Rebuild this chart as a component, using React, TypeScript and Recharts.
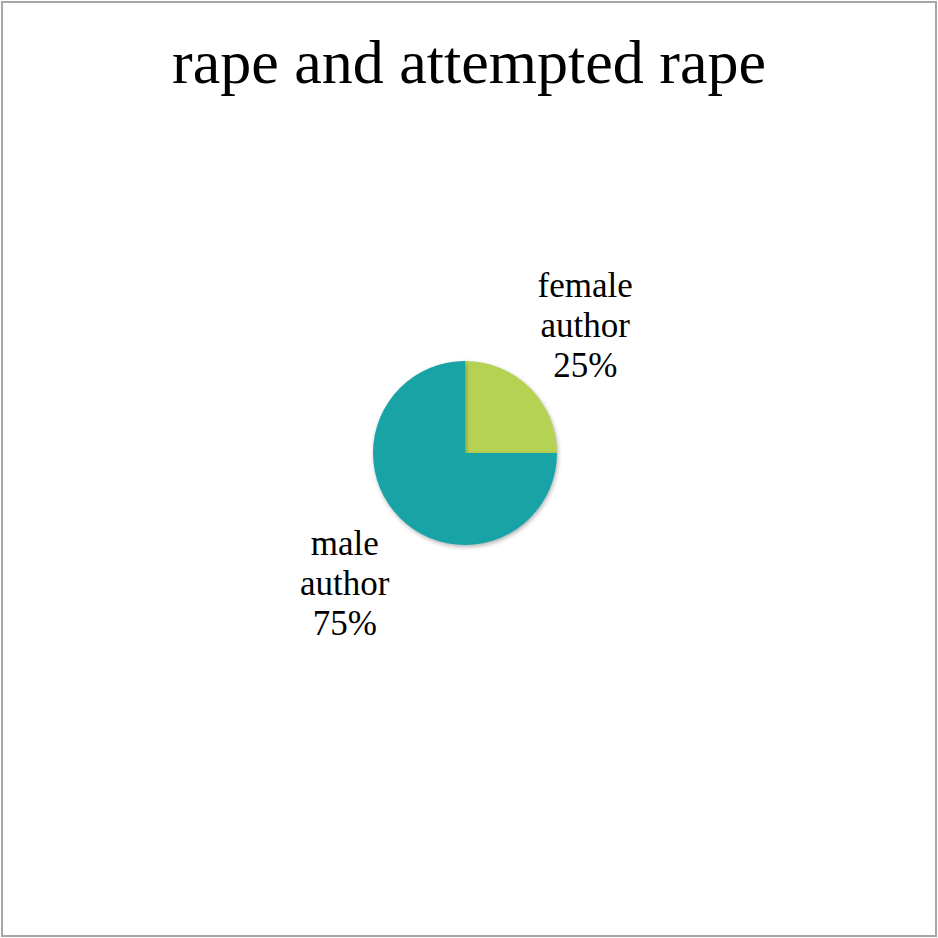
import React from "react";
import { PieChart, Pie, Cell } from "recharts";

const categories = ["female author", "male author"];
const values = [25, 75];
const colors = ["#B6D253", "#18A4A7"];
const title = "rape and attempted rape";

const data = categories.map((name, i) => ({ name, value: values[i] }));

const RADIAN = Math.PI / 180;

const renderLabel = (props: any) => {
  const { cx, cy, midAngle, outerRadius, name, percent } = props;
  const rx = outerRadius + 78;
  const ry = outerRadius + 90;
  const x = cx + rx * Math.cos(-midAngle * RADIAN);
  const y = cy + ry * Math.sin(-midAngle * RADIAN) + 13;
  const words = name.split(" ");
  const lines = [...words, `${Math.round(percent * 100)}%`];
  return (
    <text
      x={x}
      y={y - 40}
      textAnchor="middle"
      fill="#000"
      fontFamily="'Liberation Serif', serif"
      fontSize={35}
    >
      {lines.map((l, i) => (
        <tspan key={i} x={x} dy={i === 0 ? 0 : 40}>
          {l}
        </tspan>
      ))}
    </text>
  );
};

export default function App() {
  return (
    <div style={{ position: "absolute", left: 0, top: 0, width: 938, height: 938, background: "#fff" }}>
      <div
        style={{
          position: "absolute",
          left: 1,
          top: 1,
          width: 936,
          height: 936,
          boxSizing: "border-box",
          border: "2px solid #a6a6a6",
        }}
      />
      <div
        style={{
          position: "absolute",
          left: 0,
          width: 938,
          top: 22,
          textAlign: "center",
          fontFamily: "'Liberation Serif', serif",
          fontSize: 62,
          lineHeight: "80px",
          color: "#000",
        }}
      >
        {title}
      </div>
      <div style={{ position: "absolute", left: 0, top: 0 }}>
        <PieChart width={938} height={938} margin={{ top: 0, right: 0, bottom: 0, left: 0 }}>
          <Pie
            data={data}
            dataKey="value"
            nameKey="name"
            cx={465}
            cy={453}
            outerRadius={92}
            startAngle={90}
            endAngle={-270}
            stroke="none"
            label={renderLabel}
            labelLine={false}
            isAnimationActive={false}
            style={{ filter: "drop-shadow(1px 2px 2px rgba(0,0,0,0.3))" }}
          >
            {data.map((d, i) => (
              <Cell key={d.name} fill={colors[i]} />
            ))}
          </Pie>
        </PieChart>
      </div>
    </div>
  );
}
